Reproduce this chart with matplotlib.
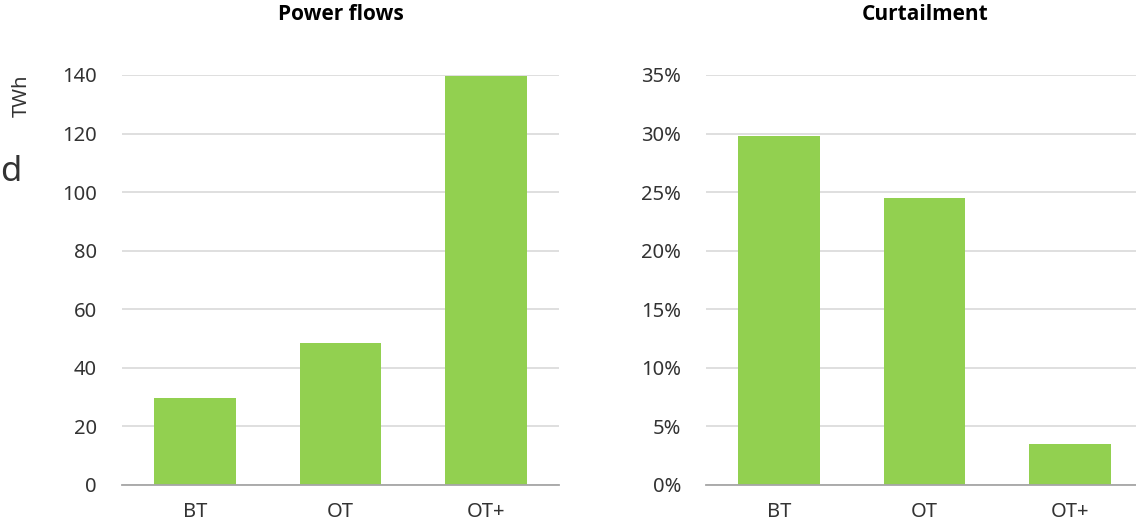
import matplotlib
matplotlib.use('Agg')
import matplotlib.pyplot as plt
from matplotlib.ticker import FuncFormatter

# data
categories = ['BT', 'OT', 'OT+']
power_flows = [29.7, 48.5, 139.7]      # TWh
curtailment = [29.8, 24.5, 3.5]        # %

green = '#92d050'
grid_c = '#d9d9d9'
text_c = '#333333'

plt.rcParams['font.family'] = ['Noto Sans', 'DejaVu Sans']

fig = plt.figure(figsize=(11.36, 5.21), dpi=100)
W, H = 1136.0, 521.0

def make_ax(left, right):
    # pixel coordinates -> figure fraction (top 75px, bottom 485px)
    ax = fig.add_axes([left / W, (H - 485) / H, (right - left) / W, (485 - 75) / H])
    for s in ['top', 'right', 'left']:
        ax.spines[s].set_visible(False)
    ax.spines['bottom'].set_color('#a6a6a6')
    ax.spines['bottom'].set_linewidth(1.3)
    ax.yaxis.grid(True, color=grid_c, linewidth=1.2)
    ax.set_axisbelow(True)
    ax.tick_params(axis='both', length=0, labelsize=14.5, labelcolor=text_c)
    ax.tick_params(axis='y', pad=18)
    ax.tick_params(axis='x', pad=12)
    return ax

# left panel
ax1 = make_ax(122, 559)
ax1.bar(range(len(categories)), power_flows, width=0.56, color=green)
ax1.set_xlim(-0.5, 2.5)
ax1.set_ylim(0, 140)
ax1.set_yticks(range(0, 141, 20))
ax1.set_xticks(range(len(categories)))
ax1.set_xticklabels(categories)

# right panel
ax2 = make_ax(706, 1143)
ax2.bar(range(len(categories)), curtailment, width=0.56, color=green)
ax2.set_xlim(-0.5, 2.5)
ax2.set_ylim(0, 35)
ax2.set_yticks(range(0, 36, 5))
ax2.yaxis.set_major_formatter(FuncFormatter(lambda v, p: '%d%%' % v))
ax2.set_xticks(range(len(categories)))
ax2.set_xticklabels(categories)

# panel titles
for cx, title in [(341, 'Power flows'), (925, 'Curtailment')]:
    fig.text(cx / W, 1 - 15 / H, title, fontsize=15, fontweight='bold',
             family=['Open Sans', 'DejaVu Sans'], ha='center', va='center', color='black')

# unit label and text at the left edge
fig.text(22 / W, 1 - 96 / H, 'TWh', rotation=90, fontsize=14.5, color=text_c,
         ha='center', va='center')
fig.text(0 / W, 1 - 172 / H, 'd', fontsize=25, color=text_c, ha='left', va='center')

plt.savefig('out.png', dpi=100)
